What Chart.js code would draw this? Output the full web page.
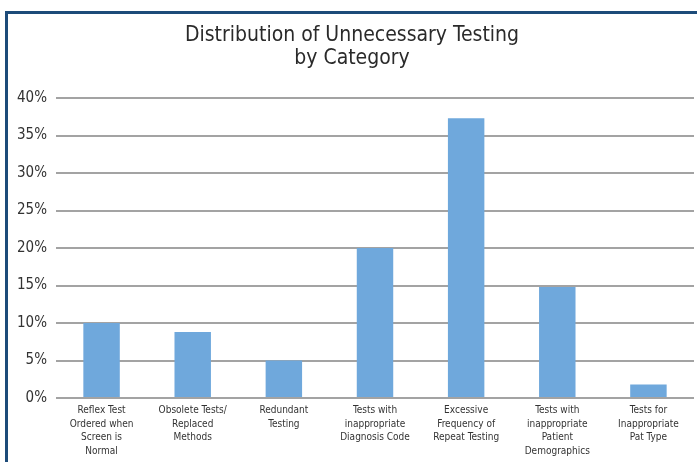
<!DOCTYPE html>
<html><head><meta charset="utf-8">
<script src="https://cdn.jsdelivr.net/npm/chart.js@4/dist/chart.umd.min.js"></script>
<style>
html,body{margin:0;padding:0;background:#fff;overflow:hidden;width:697px;height:462px;}
#frame{position:absolute;left:5px;top:11px;width:720px;height:480px;border-top:3px solid #1d4b79;border-left:3px solid #1d4b79;}
#wrap{position:absolute;left:0;top:0;width:697px;height:466px;}
</style></head>
<body>
<div id="frame"></div>
<div id="wrap"><canvas id="c" width="697" height="466"></canvas></div>
<script>
const categories = [
  ["Reflex Test", "Ordered when", "Screen is", "Normal"],
  ["Obsolete Tests/", "Replaced", "Methods"],
  ["Redundant", "Testing"],
  ["Tests with", "inappropriate", "Diagnosis Code"],
  ["Excessive", "Frequency of", "Repeat Testing"],
  ["Tests with", "inappropriate", "Patient", "Demographics"],
  ["Tests for", "Inappropriate", "Pat Type"]
];
const values = [10, 8.8, 5, 20, 37.3, 14.8, 1.8];
const titleLines = ["Distribution of Unnecessary Testing", "by Category"];
const yMin = 0, yMax = 40, yStep = 5;

const FONT = "'DejaVu Sans Condensed', 'Liberation Sans Narrow', 'DejaVu Sans', sans-serif";

new Chart(document.getElementById('c'), {
  type: 'bar',
  data: {
    labels: categories,
    datasets: [{
      data: values,
      backgroundColor: '#6fa8dc',
      borderWidth: 0,
      barPercentage: 0.4,
      categoryPercentage: 1.0
    }]
  },
  options: {
    responsive: false,
    devicePixelRatio: 1,
    animation: false,
    layout: { padding: { left: 10, right: 3, top: 0, bottom: 2 } },
    plugins: {
      legend: { display: false },
      tooltip: { enabled: false },
      title: {
        display: true,
        text: titleLines,
        color: '#2a2a2a',
        font: { family: FONT, size: 21, weight: 'normal', lineHeight: 1.05 },
        padding: { top: 25, bottom: 29 }
      }
    },
    scales: {
      x: {
        grid: { display: false, drawTicks: false },
        border: { display: false },
        ticks: {
          color: '#333',
          font: { family: FONT, size: 10, lineHeight: 1.35 },
          maxRotation: 0, minRotation: 0, autoSkip: false, padding: 6
        }
      },
      y: {
        min: yMin, max: yMax,
        grid: { color: '#a3a3a3', lineWidth: 2, drawTicks: false },
        border: { display: false },
        ticks: {
          stepSize: yStep,
          color: '#333',
          padding: 9,
          font: { family: FONT, size: 15 },
          callback: v => v + '%'
        },
        afterFit: s => { s.width = 46; }
      }
    }
  }
});
</script>
</body></html>
